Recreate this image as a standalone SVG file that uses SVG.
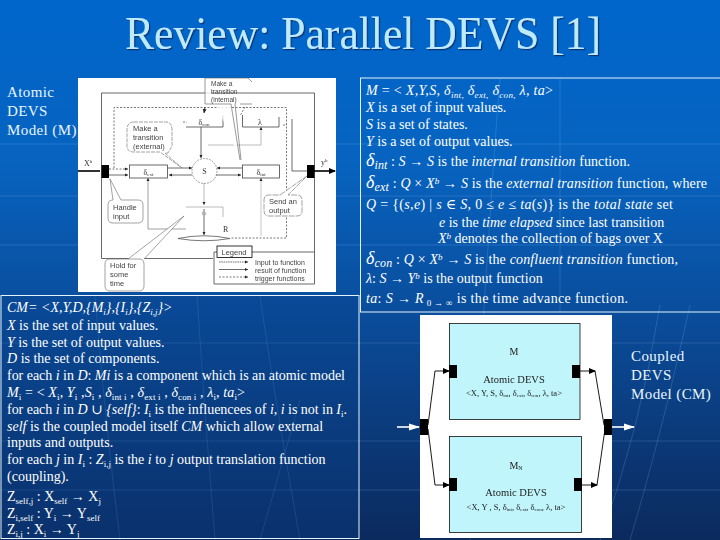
<svg xmlns="http://www.w3.org/2000/svg" width="720" height="540" viewBox="0 0 720 540">
<style>
text{font-family:"Liberation Serif","DejaVu Serif",serif}
.t{fill:#fff;font-size:14px}
.i{font-style:italic}
.s{font-size:9px}
.l{fill:#e8f6ff;font-size:15px;letter-spacing:.4px}
.f{fill:#444;font-family:"Liberation Sans","DejaVu Sans",sans-serif;font-size:7.5px}
.g{fill:#333;font-size:8px}
.k{fill:none;stroke:#444;stroke-width:.8}
.d{fill:none;stroke:#555;stroke-width:.8;stroke-dasharray:2 1.5}
.w{fill:none;stroke:#e4f4fa;stroke-width:1}
.cy{fill:#bff5fb;stroke:#111;stroke-width:.8}
.gr{fill:none;stroke:#8fc4ee;stroke-width:1;opacity:.2}
</style>
<defs>
<linearGradient id="bg" x1="0" y1="0" x2="0" y2="1"><stop offset="0" stop-color="#0066cc"/><stop offset=".3" stop-color="#0763bf"/><stop offset=".58" stop-color="#0a4d9c"/><stop offset=".8" stop-color="#0b3a7a"/><stop offset="1" stop-color="#0b2a5e"/></linearGradient>
<filter id="b1" x="-5%" y="-5%" width="110%" height="110%"><feGaussianBlur stdDeviation=".45"/></filter>
<filter id="b2" x="-5%" y="-5%" width="110%" height="110%"><feGaussianBlur stdDeviation=".25"/></filter>
<filter id="sh" x="-5%" y="-10%" width="110%" height="130%"><feDropShadow dx="1.2" dy="1.2" stdDeviation=".6" flood-color="#0a2f66" flood-opacity=".9"/></filter>
<marker id="a" markerWidth="5" markerHeight="5" refX="4" refY="2" orient="auto"><path d="M0 0L4 2L0 4z" fill="#222"/></marker>
<marker id="ab" markerWidth="7" markerHeight="6" refX="6" refY="3" orient="auto" markerUnits="userSpaceOnUse"><path d="M0 0L7 3L0 6z" fill="#000"/></marker>
<marker id="aw" markerWidth="12" markerHeight="8" refX="10" refY="4" orient="auto" markerUnits="userSpaceOnUse"><path d="M0 0.5L11 4L0 7.500z" fill="#fff"/></marker>
</defs>
<rect width="720" height="540" fill="url(#bg)"/>
<g id="texture">
<path class="gr" d="M0 144H78M336 144H720M0 196H78M336 196H720M0 245H78M336 245H720M0 343H720M0 441H720M0 490H720"/>
<path class="gr" d="M120 540Q105 420 95 296M197 296Q205 420 215 540M260 296Q275 400 300 540M500 78Q490 200 470 540M660 305Q640 430 600 540M690 305Q660 440 630 540M300 400Q280 470 260 540M560 78V312"/>
</g>
<text id="title" x="363" y="49" text-anchor="middle" font-size="46" fill="#bdeaff" filter="url(#sh)" textLength="476" lengthAdjust="spacingAndGlyphs">Review: Parallel DEVS [1]</text>

<g id="atomic-label" class="l"><text x="7" y="97" class="l">Atomic</text><text x="7" y="116" class="l">DEVS</text><text x="7" y="135" class="l">Model (M)</text></g>

<g id="atomic-figure" filter="url(#b1)">
<rect x="78" y="78" width="258" height="214" fill="#fff"/>
<path class="k" d="M213 258.500H101.500V93H314.500V252M314.500 252V284H214V252H314.500"/>
<g id="connectors-atomic">
<path d="M78 171H100" stroke="#000" stroke-width="1.6" fill="none"/>
<path d="M314 171H335" stroke="#000" stroke-width="1.6" fill="none" marker-end="url(#ab)"/>
<path class="d" d="M109 169H128" marker-end="url(#a)"/>
<path class="k" d="M109 175H128" marker-end="url(#a)"/>
<path class="d" d="M114 168V107.500H286.500V238H230" stroke-width="1"/>
<path class="k" d="M168 168H192" marker-end="url(#a)"/>
<path class="k" d="M192 175H169" marker-end="url(#a)"/>
<path class="k" d="M242 168H217" marker-end="url(#a)"/>
<path class="k" d="M216 175H241" marker-end="url(#a)"/>
<path class="k" d="M201 127V158" marker-end="url(#a)"/>
<path class="k" style="stroke:#aaa" d="M204 183V205" marker-end="url(#a)"/>
<path class="k" d="M204 209V235" marker-end="url(#a)"/>
<path class="k" style="stroke:#888" d="M186 229H148V178" marker-end="url(#a)"/>
<path class="k" style="stroke:#bbb" d="M261 236V178" marker-end="url(#a)"/>
<path class="k" style="stroke:#aaa" d="M208 145H261V127" marker-end="url(#a)"/>
<path class="k" d="M292 119V171H307"/>
<path d="M205 107L204 113" stroke="#333" stroke-width="1" marker-end="url(#a)" fill="none"/>
<path class="d" d="M183 122L187 122M245 107L240 116M283 125L287 125" stroke-width="1"/>
<path d="M178 238.500Q204 233 230 238.500Q204 243 178 238.500" fill="none" stroke="#555" stroke-width=".8"/>
</g>
<rect x="101.500" y="165" width="7.500" height="13" fill="#000"/>
<rect x="307" y="165" width="7.500" height="13" fill="#000"/>
<g id="delta-ext"><rect x="129.500" y="165" width="38" height="13" class="k"/><text x="148.500" y="175" text-anchor="middle" class="g">δ<tspan font-size="5" dy="1">ext</tspan></text></g>
<g id="state"><circle cx="204.500" cy="171" r="12.500" fill="none" stroke="#777" stroke-width=".7" stroke-dasharray="2 1"/><text x="204.500" y="174" text-anchor="middle" class="g">S</text></g>
<g id="delta-int"><rect x="242.500" y="165" width="37" height="13" class="k"/><text x="261" y="175" text-anchor="middle" class="g">δ<tspan font-size="5" dy="1">int</tspan></text></g>
<g id="delta-con"><path class="k" d="M186 127H223V115"/><text x="204" y="125" text-anchor="middle" class="g">δ<tspan font-size="5" dy="1">con</tspan></text></g>
<g id="lambda"><path class="k" d="M242.500 115V127H279V117"/><text x="260" y="125" text-anchor="middle" class="g">λ</text></g>
<g id="ta"><path class="k" style="stroke:#aaa" d="M186 207H223V217"/><text x="204" y="215" text-anchor="middle" font-size="7" fill="#999">ta</text></g>
<text x="223" y="232" class="g">R</text>
<text x="84" y="166" class="g">X<tspan font-size="5" dy="-3">b</tspan></text>
<text x="321" y="165" class="g">y<tspan font-size="5" dy="-3">b</tspan></text>
<g id="callout-internal"><path d="M205 78H248L252 82M205 78V104H231L240 160M235 104L241 160M240 104H252" fill="#fff" fill-opacity=".8" stroke="#555" stroke-width=".6"/><text class="f" style="font-size:6.5px" x="211" y="86">Make a</text><text class="f" style="font-size:6.5px" x="211" y="94">transition</text><text class="f" style="font-size:6.5px" x="211" y="102">(internal)</text></g>
<g id="callout-external"><path d="M134 122H166Q172 122 172 130V146L168 153L165 153L182 168L160 152H134Q127 152 127 146V130Q127 122 134 122Z" fill="#fff" stroke="#666" stroke-width=".6" stroke-dasharray="4 1"/><text class="f" x="133" y="131">Make a</text><text class="f" x="133" y="140">transition</text><text class="f" x="133" y="149">(external)</text></g>
<g id="callout-handle"><path d="M113 200L110 179L121 200H138Q143 200 143 205V218Q143 223 138 223H113Q108 223 108 218V205Q108 200 113 200Z" fill="#fff" stroke="#666" stroke-width=".6"/><text class="f" x="113" y="210">Handle</text><text class="f" x="113" y="219">input</text></g>
<g id="callout-hold"><path d="M128 259L184 216L144 259M110 259H139Q144 259 144 264V286Q144 291 139 291H110Q105 291 105 286V264Q105 259 110 259Z" fill="#fff" stroke="#666" stroke-width=".6"/><text class="f" x="110" y="268">Hold for</text><text class="f" x="110" y="277">some</text><text class="f" x="110" y="286">time</text></g>
<g id="callout-send"><path d="M280 195L307 176L288 195H297Q302 195 302 200V211Q302 216 297 216H269Q264 216 264 211V200Q264 195 269 195Z" fill="#fff" stroke="#666" stroke-width=".6" stroke-dasharray="6 1"/><text class="f" x="269" y="204">Send an</text><text class="f" x="269" y="213">output</text></g>
<g id="legend"><rect x="217" y="246" width="35" height="11.500" fill="#fff" stroke="#000" stroke-width=".8"/><text x="234" y="255" text-anchor="middle" class="f">Legend</text>
<path class="k" stroke-dasharray="1.500 .8" d="M219 262H248" marker-end="url(#a)"/><path class="k" d="M219 269.500H248" marker-end="url(#a)"/><path class="d" d="M219 277H248" marker-end="url(#a)"/>
<text class="f" style="font-size:7px" x="255" y="264.500">Input to function</text><text class="f" style="font-size:7px" x="255" y="272.500">result of function</text><text class="f" style="font-size:7px" x="255" y="280.500">trigger functions</text></g>
</g>

<g id="cm-panel">
<rect x="1" y="295.500" width="358" height="243" fill="#0a3f86" fill-opacity=".35" stroke="#e4f4fa" stroke-width="1"/>
<text class="t i" x="7" y="312">CM= &lt;X,Y,D,{M<tspan class="s" dy="3">i</tspan><tspan dy="-3">},{I</tspan><tspan class="s" dy="3">i</tspan><tspan dy="-3">},{Z</tspan><tspan class="s" dy="3">i,j</tspan><tspan dy="-3">}&gt;</tspan></text>
<text class="t" x="7" y="330"><tspan class="i">X</tspan> is the set of input values.</text>
<text class="t" x="7" y="347"><tspan class="i">Y</tspan> is the set of output values.</text>
<text class="t" x="7" y="363"><tspan class="i">D</tspan> is the set of components.</text>
<text class="t" x="7" y="380" textLength="338">for each <tspan class="i">i</tspan> in <tspan class="i">D</tspan>: <tspan class="i">Mi</tspan> is a component which is an atomic model</text>
<text class="t" x="7" y="397" textLength="238"><tspan class="i">M</tspan><tspan class="s" dy="3">i</tspan><tspan dy="-3"> = &lt; </tspan><tspan class="i">X</tspan><tspan class="s" dy="3">i</tspan><tspan dy="-3">, </tspan><tspan class="i">Y</tspan><tspan class="s" dy="3">i</tspan><tspan dy="-3"> ,</tspan><tspan class="i">S</tspan><tspan class="s" dy="3">i</tspan><tspan dy="-3"> , </tspan><tspan class="i">δ</tspan><tspan class="s" dy="3">int i</tspan><tspan dy="-3"> , </tspan><tspan class="i">δ</tspan><tspan class="s" dy="3">ext i</tspan><tspan dy="-3"> , </tspan><tspan class="i">δ</tspan><tspan class="s" dy="3">con i</tspan><tspan dy="-3"> , </tspan><tspan class="i">λ</tspan><tspan class="s" dy="3">i</tspan><tspan dy="-3">, </tspan><tspan class="i">ta</tspan><tspan class="s" dy="3">i</tspan><tspan dy="-3">&gt;</tspan></text>
<text class="t" x="7" y="414" textLength="340">for each <tspan class="i">i</tspan> in <tspan class="i">D</tspan> ∪ <tspan class="i">{self}</tspan>: <tspan class="i">I</tspan><tspan class="s" dy="3">i</tspan><tspan dy="-3"> is the influencees of </tspan><tspan class="i">i</tspan>, <tspan class="i">i</tspan> is not in <tspan class="i">I</tspan><tspan class="s" dy="3">i</tspan><tspan dy="-3">.</tspan></text>
<text class="t" x="7" y="431"><tspan class="i">self</tspan> is the coupled model itself <tspan class="i">CM</tspan> which allow external</text>
<text class="t" x="7" y="447">inputs and outputs.</text>
<text class="t" x="7" y="464">for each <tspan class="i">j</tspan> in <tspan class="i">I</tspan><tspan class="s" dy="3">i</tspan><tspan dy="-3"> : </tspan><tspan class="i">Z</tspan><tspan class="s" dy="3">i,j</tspan><tspan dy="-3"> is the </tspan><tspan class="i">i</tspan> to <tspan class="i">j</tspan> output translation function</text>
<text class="t" x="7" y="481">(coupling).</text>
<text class="t" x="7" y="501">Z<tspan class="s" dy="3">self,j</tspan><tspan dy="-3"> : X</tspan><tspan class="s" dy="3">self</tspan><tspan dy="-3"> → X</tspan><tspan class="s" dy="3">j</tspan></text>
<text class="t" x="7" y="518">Z<tspan class="s" dy="3">i,self</tspan><tspan dy="-3"> : Y</tspan><tspan class="s" dy="3">i</tspan><tspan dy="-3"> → Y</tspan><tspan class="s" dy="3">self</tspan></text>
<text class="t" x="7" y="534">Z<tspan class="s" dy="3">i,j</tspan><tspan dy="-3"> : X</tspan><tspan class="s" dy="3">i</tspan><tspan dy="-3"> → Y</tspan><tspan class="s" dy="3">j</tspan></text>
</g>

<g id="m-panel">
<rect x="360.500" y="78" width="365" height="234" class="w"/>
<text class="t" x="366" y="95" textLength="187"><tspan class="i">M</tspan> = &lt; <tspan class="i">X,Y,S,</tspan> <tspan class="i">δ</tspan><tspan class="s i" dy="3">int,</tspan> <tspan class="i" dy="-3">δ</tspan><tspan class="s i" dy="3">ext,</tspan> <tspan class="i" dy="-3">δ</tspan><tspan class="s i" dy="3">con,</tspan> <tspan class="i" dy="-3">λ, ta</tspan>&gt;</text>
<text class="t" x="366" y="112"><tspan class="i">X</tspan> is a set of input values.</text>
<text class="t" x="366" y="129"><tspan class="i">S</tspan> is a set of states.</text>
<text class="t" x="366" y="146"><tspan class="i">Y</tspan> is a set of output values.</text>
<text class="t" x="366" y="166" textLength="264"><tspan font-size="18" class="i">δ</tspan><tspan font-size="12" dy="3" class="i">int</tspan><tspan dy="-3"> : </tspan><tspan class="i">S</tspan> → <tspan class="i">S</tspan> is the <tspan class="i">internal transition</tspan> function.</text>
<text class="t" x="366" y="188" textLength="341"><tspan font-size="18" class="i">δ</tspan><tspan font-size="12" dy="3" class="i">ext</tspan><tspan dy="-3"> : </tspan><tspan class="i">Q</tspan> × <tspan class="i">X</tspan><tspan class="s i" dy="-4">b</tspan><tspan dy="4"> → </tspan><tspan class="i">S</tspan> is the <tspan class="i">external transition</tspan> function, where</text>
<text class="t" x="366" y="209" textLength="307"><tspan class="i">Q</tspan> = {(<tspan class="i">s,e</tspan>) | <tspan class="i">s</tspan> ∈ <tspan class="i">S</tspan>, 0 ≤ <tspan class="i">e</tspan> ≤ <tspan class="i">ta</tspan>(<tspan class="i">s</tspan>)} is the <tspan class="i">total state</tspan> set</text>
<text class="t" x="439" y="227"><tspan class="i">e</tspan> is the <tspan class="i">time elapsed</tspan> since last transition</text>
<text class="t" x="438" y="243"><tspan class="i">X</tspan><tspan class="s i" dy="-4">b</tspan><tspan dy="4"> denotes the collection of bags over X</tspan></text>
<text class="t" x="366" y="264" textLength="312"><tspan font-size="18" class="i">δ</tspan><tspan font-size="12" dy="3" class="i">con</tspan><tspan dy="-3"> : </tspan><tspan class="i">Q</tspan> × <tspan class="i">X</tspan><tspan class="s i" dy="-4">b</tspan><tspan dy="4"> → </tspan><tspan class="i">S</tspan> is the <tspan class="i">confluent transition</tspan> function,</text>
<text class="t" x="366" y="283"><tspan class="i">λ</tspan>: <tspan class="i">S</tspan> → <tspan class="i">Y</tspan><tspan class="s i" dy="-4">b</tspan><tspan dy="4"> is the output function</tspan></text>
<text class="t" x="366" y="303" textLength="262"><tspan class="i">ta</tspan>: <tspan class="i">S</tspan> → <tspan class="i">R</tspan><tspan class="s" dy="3"> 0 → ∞</tspan><tspan dy="-3">  is the time advance function.</tspan></text>
</g>

<g id="coupled-figure" filter="url(#b2)">
<rect x="420" y="315" width="192" height="223" fill="#fff"/>
<g id="connectors">
<path fill="none" stroke="#000" stroke-width=".9" d="M428 425L435 371H449" marker-end="url(#ab)"/>
<path fill="none" stroke="#000" stroke-width=".9" d="M428 429L435 485H449" marker-end="url(#ab)"/>
<path fill="none" stroke="#000" stroke-width=".9" d="M580 371H595" marker-end="url(#ab)"/>
<path fill="none" stroke="#000" stroke-width=".9" d="M595 371L604 425"/>
<path fill="none" stroke="#000" stroke-width=".9" d="M582 485H597" marker-end="url(#ab)"/>
<path fill="none" stroke="#000" stroke-width=".9" d="M597 485L605 429"/>
<path fill="none" stroke="#fff" stroke-width="1.600" d="M397 427H419" marker-end="url(#aw)"/>
<path fill="none" stroke="#fff" stroke-width="1.600" d="M612 427H634" marker-end="url(#aw)"/>
</g>
<g id="m1"><rect x="449.500" y="323.500" width="130.500" height="96" class="cy"/>
<text x="514" y="355" text-anchor="middle" font-size="10" fill="#222">M</text>
<text x="514" y="383" text-anchor="middle" font-size="10.500" fill="#222">Atomic DEVS</text>
<text x="514" y="396" text-anchor="middle" font-size="8.500" fill="#222">&lt;X, Y, S, δ<tspan font-size="5" dy="1">int</tspan><tspan dy="-1">, δ</tspan><tspan font-size="5" dy="1">ext</tspan><tspan dy="-1">, δ</tspan><tspan font-size="5" dy="1">con</tspan><tspan dy="-1">, λ, ta&gt;</tspan></text></g>
<g id="mn"><rect x="449.500" y="436.500" width="132" height="96" class="cy"/>
<text x="516" y="469" text-anchor="middle" font-size="10" fill="#222">M<tspan font-size="6" dy="1">N</tspan></text>
<text x="516" y="496" text-anchor="middle" font-size="10.500" fill="#222">Atomic DEVS</text>
<text x="516" y="510" text-anchor="middle" font-size="8.500" fill="#222">&lt;X, Y , S, δ<tspan font-size="5" dy="1">int</tspan><tspan dy="-1">, δ</tspan><tspan font-size="5" dy="1">ext</tspan><tspan dy="-1">, δ</tspan><tspan font-size="5" dy="1">con</tspan><tspan dy="-1">, λ, ta&gt;</tspan></text></g>
<g fill="#000"><rect x="449" y="365" width="8" height="13"/><rect x="572" y="365" width="8" height="13"/><rect x="449" y="478" width="8" height="13"/><rect x="574" y="478" width="8" height="13"/><rect x="420" y="419" width="8" height="16"/><rect x="604" y="419" width="8" height="16"/></g>
</g>
<g id="coupled-label"><text x="631" y="361" class="l">Coupled</text><text x="631" y="380" class="l">DEVS</text><text x="631" y="399" class="l">Model (CM)</text></g>
</svg>
